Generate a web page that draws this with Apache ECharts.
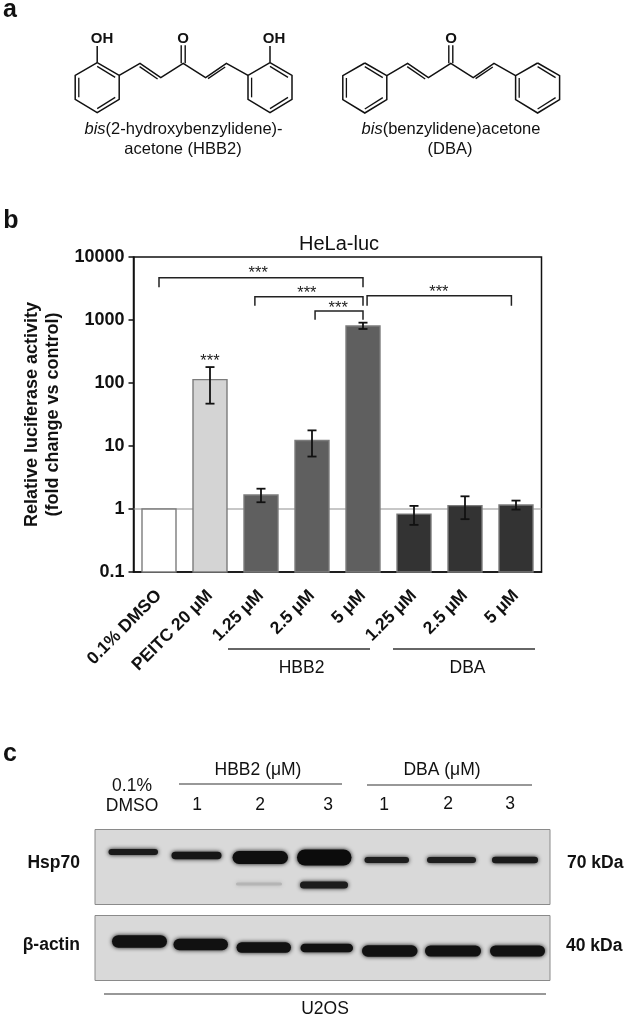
<!DOCTYPE html>
<html><head><meta charset="utf-8">
<style>html,body{margin:0;padding:0;background:#fff}#c{width:625px;height:1019px}</style>
<script src="https://cdn.jsdelivr.net/npm/echarts@6/dist/echarts.min.js"></script>
</head><body><div id="c"></div>
<script>
const FONT = '"Liberation Sans", Arial, sans-serif';
const categories = ['0.1% DMSO','PEITC 20 μM','1.25 μM','2.5 μM','5 μM','1.25 μM','2.5 μM','5 μM'];
const values    = [1, 113, 1.67, 12.2, 803, 0.83, 1.13, 1.16];
const errHigh   = [null, 179, 2.1, 17.7, 907, 1.12, 1.59, 1.36];
const errLow    = [null, 47, 1.28, 6.8, 720, 0.56, 0.69, 0.98];
const barColors = ['#ffffff','#d4d4d4','#5f5f5f','#5f5f5f','#5f5f5f','#333333','#333333','#333333'];
const axisMin = 0.1, axisMax = 10000;
// significance brackets in data space
const bracketFrom = [0, 1.88, 3.06, 4.08];
const bracketTo   = [4, 4, 4, 6.91];
const bracketTop  = [4699, 2345, 1390, 2432];
const bracketFoot = [3300, 1690, 1012, 1690];
const starX = [1.946, 2.9, 3.514, 5.487, 1];
const starY = [6140, 2994, 1730, 3069, 247];

function T(text,x,y,size,opt){opt=opt||{};return {type:'text',silent:true,z:20,x:x,y:y,
  style:Object.assign({text:text,x:0,y:0,fill:'#111',font:(opt.weight||'normal')+' '+size+'px '+FONT,align:opt.align||'center',verticalAlign:'middle'},opt.rich?{rich:opt.rich}:{})};}
function L(x1,y1,x2,y2,w,c){return {type:'line',silent:true,z:15,shape:{x1,y1,x2,y2},style:{stroke:c||'#333',lineWidth:w||1.2}};}

function Z(p){return p.map(q=>[q[0]/2.5,q[1]/3]);}
function molecule(dx,withOH){
  const g=[];
  const poly=(pts,w)=>g.push({type:'polyline',silent:true,z:15,shape:{points:Z(pts.map(p=>[p[0]+dx,p[1]]))},style:{stroke:'#111',lineWidth:w||1.5,fill:null,lineJoin:'miter'}});
  const dy=withOH?0:1;
  const ringL=[[243,188],[298,226],[298,298],[243,338],[188,298],[188,226],[243,188]].map(p=>[p[0],p[1]+dy]);
  const ringR=ringL.map(p=>[p[0]+432,p[1]]);
  poly(ringL);poly(ringR);
  poly([[298,226+dy],[350,190],[402,233],[458,190],[514,233],[566,190],[620,226+dy]]);
  poly([[349,200],[394,237]],1.4); poly([[520,236],[563,201]],1.4);
  [0,432].forEach(o=>{
    poly([[243+o,199+dy],[288+o,232+dy]],1.3);
    poly([[197+o,233+dy],[197+o,292+dy]],1.3);
    poly([[243+o,326+dy],[288+o,292+dy]],1.3);
  });
  poly([[453,190],[453,136]],1.4);poly([[463,190],[463,136]],1.4);
  if(withOH){poly([[243,188],[243,138]]);poly([[675,188],[675,138]]);}
  return g;
}
const molGraphics = molecule(0,true).concat(molecule(669,false));

// Panel c: the western-blot image, approximated with soft bands
const panels = [[95,829.5,455,75],[95,915.5,455,65]];
const bandsRect = [
 [108.5,158,852,6,'#1a1a1a'],[171.5,221.5,855.5,7.5,'#161616'],[232.5,288,857.5,13,'#0e0e0e'],[297,351.5,857.5,16,'#0c0c0c'],
 [364.5,409,860,6,'#1e1e1e'],[427,476,860,6,'#1e1e1e'],[492,538,860,6.5,'#1a1a1a'],
 [236,282,884,3,'#b5b5b5'],[300,348,885,7,'#1c1c1c'],
 [112,167,941.5,12.5,'#111'],[173.5,228,944.5,11.5,'#111'],[236.5,291,947.5,10.5,'#111'],[300.5,353,948,8.5,'#111'],
 [362,417.5,951,11.5,'#111'],[425,481,951,11,'#111'],[490,545,951,11,'#111']];
const bandGraphics = [];
panels.forEach(p=>bandGraphics.push({type:'rect',silent:true,z:10,shape:{x:p[0],y:p[1],width:p[2],height:p[3]},style:{fill:'#d9d9d9',stroke:'#8a8a8a',lineWidth:1}}));
bandsRect.forEach(b=>{
  const w=b[1]-b[0], h=b[3];
  bandGraphics.push({type:'rect',silent:true,z:12,shape:{x:b[0],y:b[2]-h/2,width:w,height:h,r:h/2},style:{fill:b[4],shadowBlur:4,shadowColor:b[4]}});
});

const rich={i:{fontStyle:'italic',fontSize:16.5,fontFamily:FONT,fill:'#111'},n:{fontSize:16.5,fontFamily:FONT,fill:'#111'}};
const labels=[
 T('a',10,10,25,{weight:'bold'}),T('b',11,221,25,{weight:'bold'}),T('c',10,754,25,{weight:'bold'}),
 T('OH',102,39,15,{weight:'bold'}),T('O',183,39,15,{weight:'bold'}),T('OH',274,39,15,{weight:'bold'}),T('O',451,39,15,{weight:'bold'}),
 T('{i|bis}{n|(2-hydroxybenzylidene)-}',183.5,129,16.5,{rich}),T('acetone (HBB2)',183,149,16.5),
 T('{i|bis}{n|(benzylidene)acetone}',451,129,16.5,{rich}),T('(DBA)',450,149,16.5),
 T('HBB2',301.5,668,17.5),T('DBA',467.5,668,17.5),L(228,649,370,649,1.5),L(393,649,535,649,1.5),
 T('HBB2 (μM)',258,770,17.5),T('DBA (μM)',442,770,17.5),L(179,784,342,784,1.2),L(367,785,532,785,1.2),
 T('0.1%',132,786,17.5),T('DMSO',132,806,17.5),
 T('1',197,805,17.5),T('2',260,805,17.5),T('3',328,805,17.5),T('1',384,805,17.5),T('2',448,804,17.5),T('3',510,804,17.5),
 T('Hsp70',80,863,17.5,{weight:'bold',align:'right'}),T('β-actin',80,945,17.5,{weight:'bold',align:'right'}),
 T('70 kDa',567,863,17.5,{weight:'bold',align:'left'}),T('40 kDa',566,946,17.5,{weight:'bold',align:'left'}),
 L(104,994,546,994,1.2),T('U2OS',325,1009,17.5)
];

const chart=echarts.init(document.getElementById('c'),null,{renderer:'canvas'});
chart.setOption({
 animation:false,
 backgroundColor:'#fff',
 title:{text:'HeLa-luc',left:334,top:229,textAlign:'center',textStyle:{fontFamily:FONT,fontSize:20,fontWeight:'normal',color:'#111'}},
 grid:{left:133.5,top:257,width:408,height:315,show:true,borderColor:'#111',borderWidth:1.5,backgroundColor:'transparent'},
 xAxis:[{type:'category',data:categories,boundaryGap:true,
   axisLine:{onZero:false,lineStyle:{color:'#111',width:1.5}},axisTick:{alignWithLabel:true,length:5,lineStyle:{color:'#111',width:1.5}},
   axisLabel:{interval:0,rotate:45,margin:21,fontFamily:FONT,fontWeight:'bold',fontSize:17.5,color:'#111'}},
  {type:'value',min:-0.5,max:7.5,show:false}],
 yAxis:[{type:'log',logBase:10,min:axisMin,max:axisMax,
   name:'Relative luciferase activity\n(fold change vs control)',nameLocation:'middle',nameGap:69,nameRotate:90,
   nameTextStyle:{fontFamily:FONT,fontWeight:'bold',fontSize:18,lineHeight:21,color:'#111'},
   axisLine:{show:true,onZero:false,lineStyle:{color:'#111',width:1.5}},axisTick:{show:true,length:5,lineStyle:{color:'#111',width:1.5}},
   minorTick:{show:false},splitLine:{show:false},
   axisLabel:{margin:9,fontFamily:FONT,fontWeight:'bold',fontSize:18,color:'#111',formatter:v=>String(+(+v).toPrecision(3))}}],
 series:[
  // reference line at 1, drawn under the bars
  {type:'line',xAxisIndex:1,yAxisIndex:0,z:1,silent:true,symbol:'none',clip:true,
   data:[[-0.5,1],[7.5,1]],lineStyle:{color:'#8f8f8f',width:1}},
  // log-axis bars anchored at the axis floor rather than at 1
  {type:'custom',xAxisIndex:0,yAxisIndex:0,z:3,clip:false,silent:true,
   data:values.map((v,i)=>[i,v]),encode:{x:0,y:1},
   renderItem(p,api){
     const i=api.value(0),top=api.coord([i,api.value(1)]),base=api.coord([i,axisMin]),w=api.size([1,0])[0]*2/3;
     return {type:'rect',shape:{x:top[0]-w/2,y:top[1],width:w,height:base[1]-top[1]},
       style:{fill:barColors[i],stroke:'#7c7c7c',lineWidth:1.4}};
   }},
  {type:'custom',xAxisIndex:1,yAxisIndex:0,z:6,clip:false,silent:true,
   data:values.map((v,i)=>[i,errLow[i],errHigh[i]]).filter(d=>d[1]!=null),encode:{x:0,y:[1,2]},
   renderItem(p,api){
     const x=api.value(0),a=api.coord([x,api.value(1)]),b=api.coord([x,api.value(2)]);
     const st={stroke:'#111',lineWidth:1.8,fill:null};
     return {type:'group',children:[
       {type:'line',shape:{x1:a[0],y1:a[1],x2:b[0],y2:b[1]},style:st},
       {type:'line',shape:{x1:a[0]-4.5,y1:a[1],x2:a[0]+4.5,y2:a[1]},style:st},
       {type:'line',shape:{x1:b[0]-4.5,y1:b[1],x2:b[0]+4.5,y2:b[1]},style:st}]};
   }},
  {type:'custom',xAxisIndex:1,yAxisIndex:0,z:6,clip:false,silent:true,
   data:bracketFrom.map((f,i)=>[f,bracketTo[i],bracketTop[i],bracketFoot[i]]),encode:{x:[0,1],y:[2,3]},
   renderItem(p,api){
     const a=api.coord([api.value(0),api.value(3)]),b=api.coord([api.value(0),api.value(2)]),c=api.coord([api.value(1),api.value(2)]),d=api.coord([api.value(1),api.value(3)]);
     return {type:'polyline',shape:{points:[a,b,c,d]},style:{stroke:'#222',lineWidth:1.5,fill:null}};
   }},
  {type:'custom',xAxisIndex:1,yAxisIndex:0,z:7,clip:false,silent:true,
   data:starX.map((x,i)=>[x,starY[i]]),encode:{x:0,y:1},
   renderItem(p,api){
     const c=api.coord([api.value(0),api.value(1)]);
     return {type:'text',style:{text:'***',x:c[0],y:c[1]+3,align:'center',verticalAlign:'middle',fill:'#222',font:'16.5px '+FONT}};
   }}
 ],
 graphic:{elements:molGraphics.concat(bandGraphics,labels)}
});
</script></body></html>
